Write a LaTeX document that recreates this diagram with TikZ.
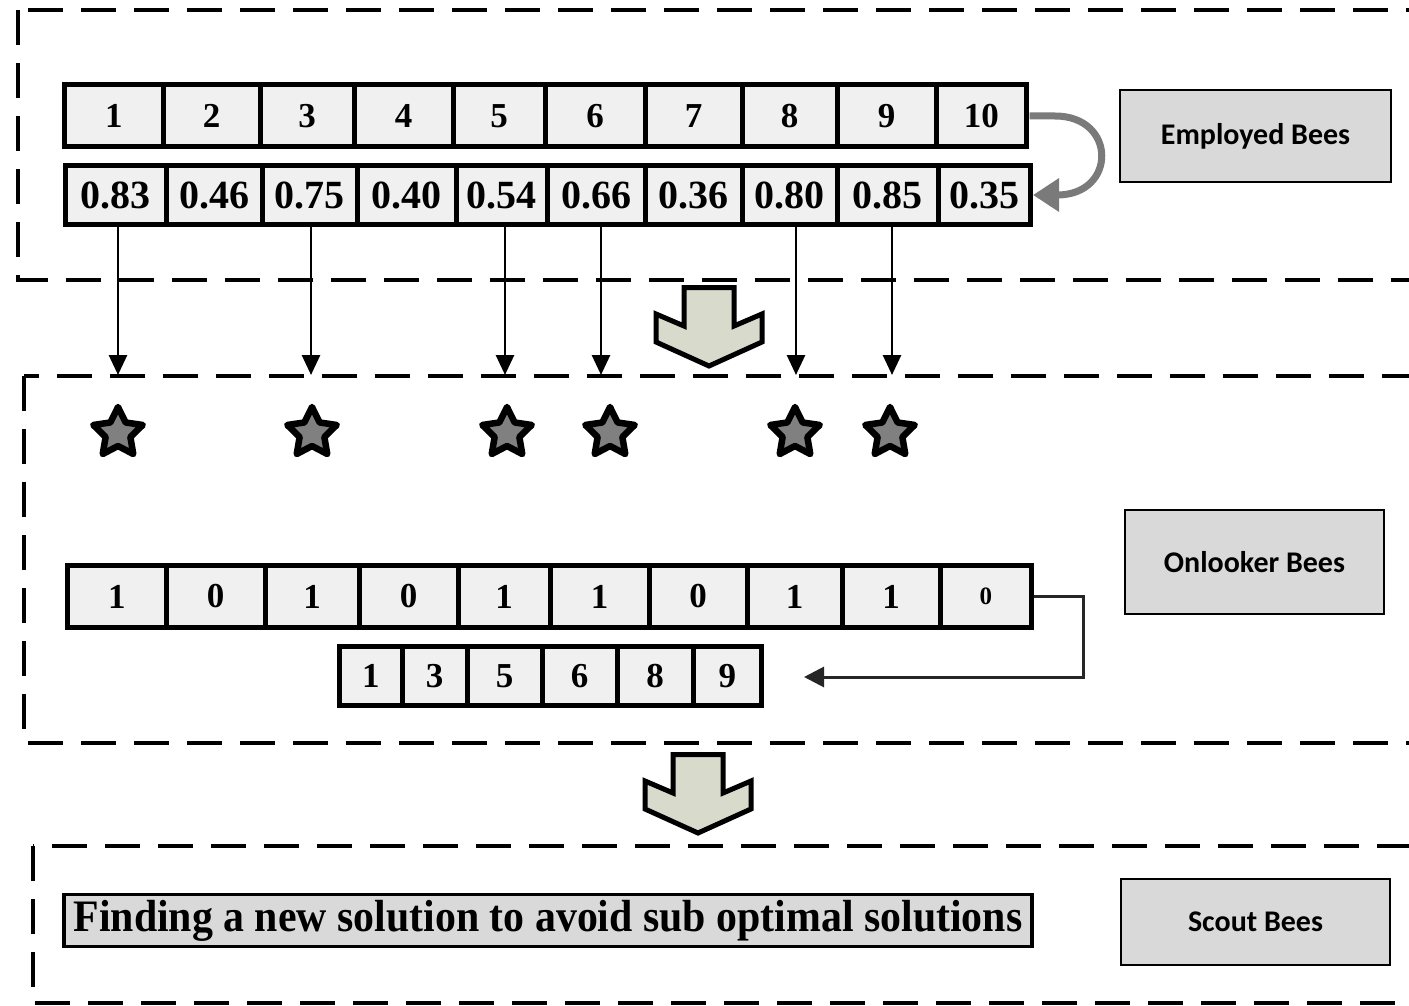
\documentclass[tikz,border=0pt]{standalone}
\usepackage{fontspec}
\setmainfont{Liberation Serif}
\newfontfamily\labelfont{Carlito}
\usetikzlibrary{shapes.geometric,arrows.meta}
\definecolor{cellfill}{HTML}{F0F0F0}
\definecolor{boxfill}{HTML}{D9D9D9}
\definecolor{arrowfill}{HTML}{D8DBCB}
\definecolor{curvegray}{HTML}{7A7A7A}
\definecolor{stargray}{HTML}{808080}
\begin{document}
\begin{tikzpicture}[x=1pt,y=-1pt,
  cell/.style={draw=black, line width=5pt, fill=cellfill, inner sep=0pt, outer sep=0pt, font=\fontsize{35}{40}\selectfont\bfseries},
  valcell/.style={cell, font=\fontsize{40}{44}\selectfont\bfseries},
  frame/.style={line width=3.5pt, dash pattern=on 35pt off 18pt},
  pick/.style={line width=2.8pt, -{Triangle[length=20pt,width=18pt]}},
  starnode/.style={star, star points=5, star point ratio=2.0, minimum size=52pt, inner sep=0pt, draw=black, line width=6.5pt, fill=stargray, line join=round},
  rolebox/.style={draw=black, line width=2pt, fill=boxfill, inner sep=0pt, font=\labelfont\bfseries\fontsize{30}{32}\selectfont},
  blockarrow/.style={draw=black, line width=5pt, fill=arrowfill, line join=miter}
]
\clip (0,0) rectangle (1409,1006);
\fill[white] (0,0) rectangle (1409,1006);

% dashed frames
\draw[frame] (18,10) rectangle (1440,280);
\draw[frame] (24,376) rectangle (1440,743);
\draw[frame] (33,846) rectangle (1440,1003);

% top row: indices
\foreach \l/\r/\t [count=\i] in {64.5/163/1,163/260/2,260/354/3,354/453/4,453/545/5,545/645/6,645/742/7,742/837/8,837/936/9,936/1026.5/10}
  \node[cell, minimum width={\r-\l}, minimum height=62pt] (t\i) at ({(\l+\r)/2},116) {\t};

% second row: values
\foreach \l/\r/\t [count=\i] in {65.5/166/0.83,166/262/0.46,262/357/0.75,357/456/0.40,456/547/0.54,547/645/0.66,645/742/0.36,742/837/0.80,837/938/0.85,938/1030.5/0.35}
  \node[valcell, minimum width={\r-\l}, minimum height=59pt] (v\i) at ({(\l+\r)/2},195) {\t};

% curved arrow
\draw[curvegray, line width=7pt, -{Triangle[length=26pt,width=32pt]}]
  ([xshift=3pt]t10.east) -- (1055,116) .. controls (1117,116) and (1117,195) .. (1057,195) -- ([xshift=2.5pt]v10.east);

% block arrows
\draw[blockarrow, shift={(709,285)}] (-25,2.5) -- (25,2.5) -- (25,41) -- (53,29) -- (53,57) -- (0,81) -- (-53,57) -- (-53,29) -- (-25,41) -- cycle;
\draw[blockarrow, shift={(698,752)}] (-25,2.5) -- (25,2.5) -- (25,41) -- (53,29) -- (53,57) -- (0,81) -- (-53,57) -- (-53,29) -- (-25,41) -- cycle;

% selection arrows
\foreach \c/\x [count=\i] in {1/118,3/311,5/505,6/601,8/796,9/892} {
  \coordinate (p\i) at (\x,375);
  \draw[pick] (p\i |- v\c.south) -- (p\i);
}

% stars
\foreach \x [count=\i] in {118,312,507,610,795,890}
  \node[starnode] (s\i) at (\x,433) {};

% bit row
\foreach \l/\r/\t [count=\i] in {67.5/166/1,166/265/0,265/359/1,359/458/0,458/550/1,550/649/1,649/747/0,747/842/1,842/940/1}
  \node[cell, minimum width={\r-\l}, minimum height=62pt] (b\i) at ({(\l+\r)/2},596.5) {\t};
\node[cell, minimum width=91.5pt, minimum height=62pt, font=\fontsize{25}{28}\selectfont\bfseries] (b10) at (985.75,596.5) {0};

% index row
\foreach \l/\r/\t [count=\i] in {339.5/402/1,402/467/3,467/542/5,542/617/6,617/693/8,693/761.5/9}
  \node[cell, minimum width={\r-\l}, minimum height=59pt] (x\i) at ({(\l+\r)/2},676) {\t};

% connector from bit row to index row
\coordinate (bend) at (1083,677);
\coordinate (ia) at (804,677);
\draw[line width=3pt, draw=black!85, -{Triangle[length=20pt,width=20pt]}]
  ([xshift=2.5pt]b10.east) -| (bend) -- (ia);

% role boxes
\node[rolebox, minimum width=271pt, minimum height=92pt] (emp) at (1255.5,136) {Employed Bees};
\node[rolebox, minimum width=259pt, minimum height=104pt] (onl) at (1254.5,562) {Onlooker Bees};
\node[rolebox, minimum width=269pt, minimum height=86pt] (sco) at (1255.5,921.5) {Scout Bees};

% scout text box
\node[draw=black, line width=3.5pt, fill=boxfill, minimum width=968pt, minimum height=52pt, inner sep=0pt,
  font=\fontsize{45}{48}\selectfont\bfseries] (find) at (548,920.5)
  {\scalebox{0.93}[1]{Finding a new solution to avoid sub optimal solutions}};
\end{tikzpicture}
\end{document}
